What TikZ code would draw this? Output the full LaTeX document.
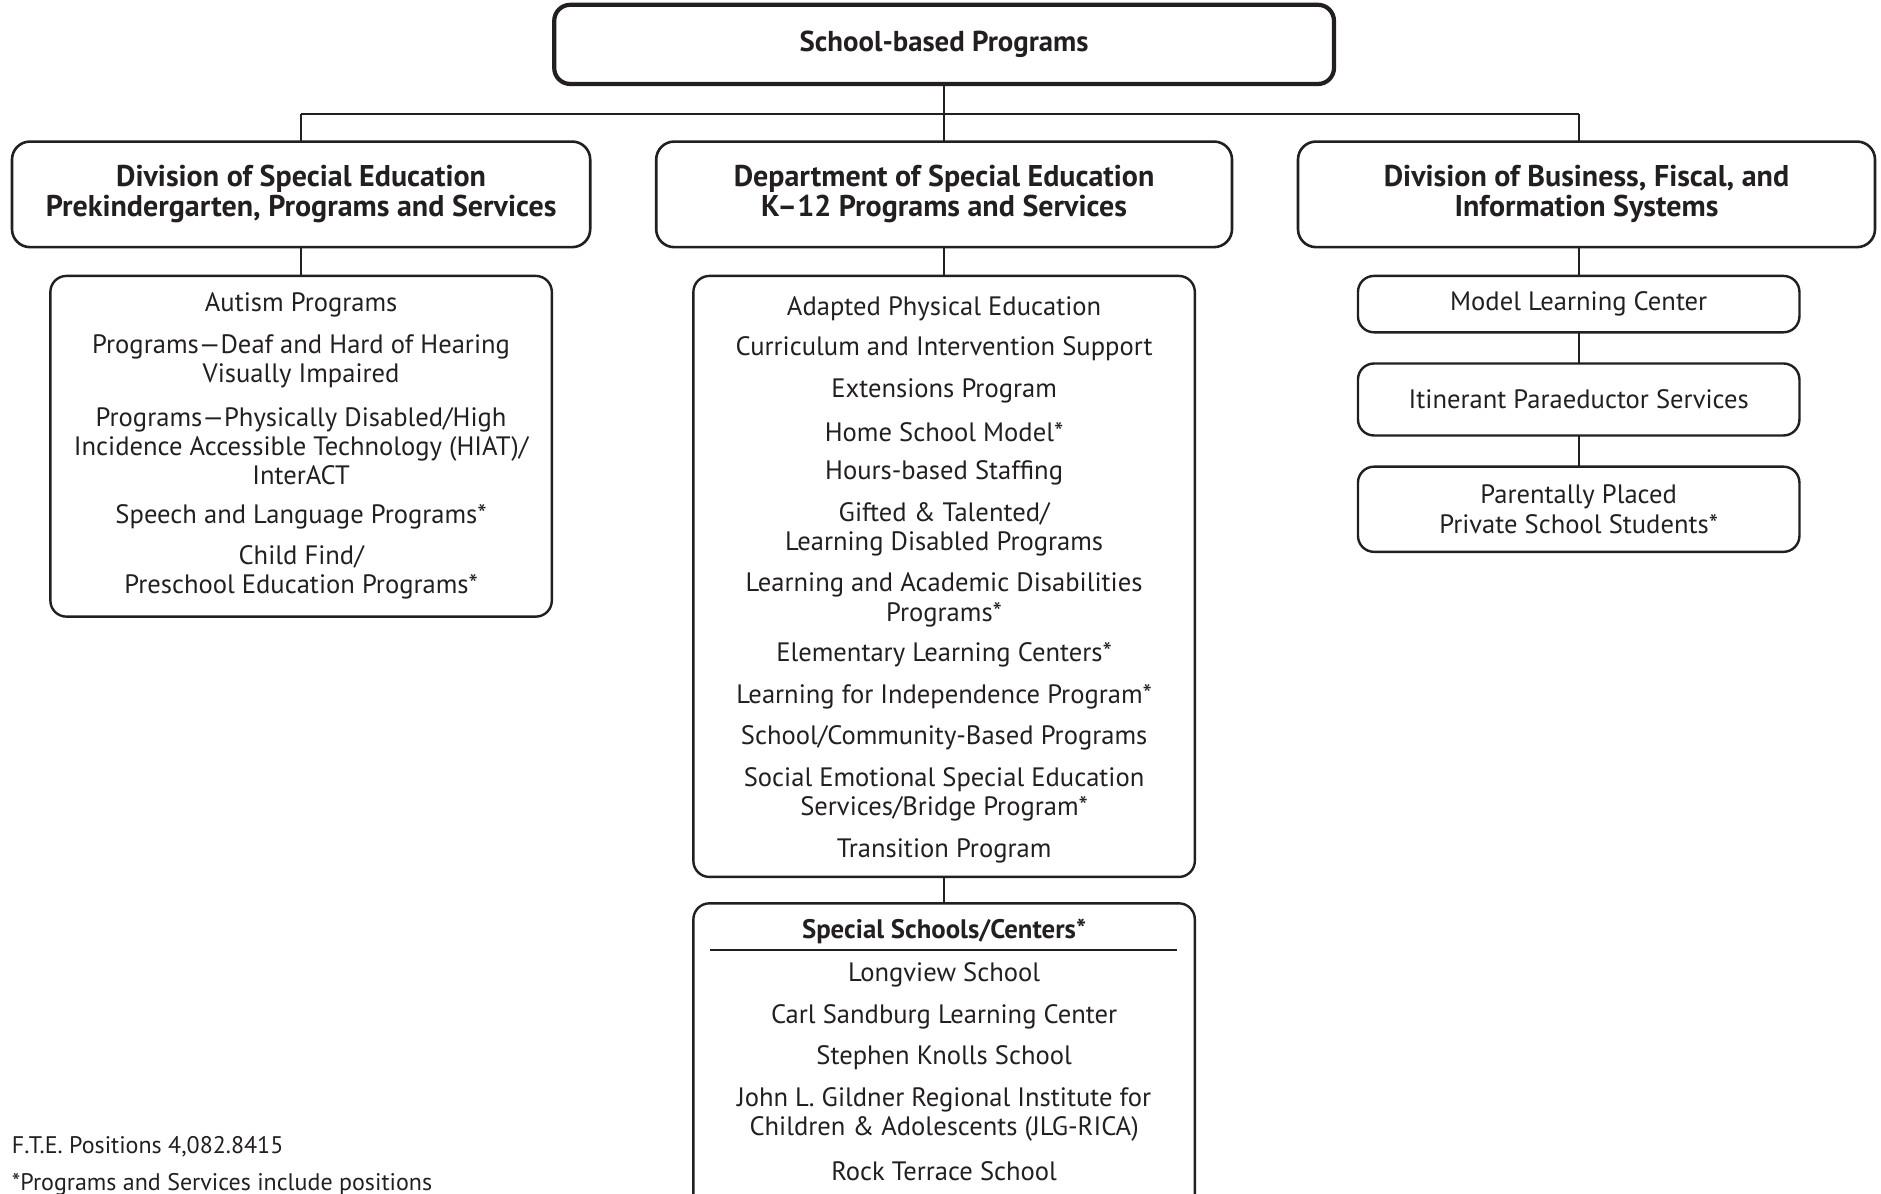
\documentclass[tikz,border=0pt]{standalone}
\usepackage{fontspec}
\setmainfont{PT Sans}
\definecolor{ink}{HTML}{231F20}
\begin{document}
\begin{tikzpicture}[x=0.6pt,y=-0.6pt,
  every node/.style={text=ink, inner sep=0pt, outer sep=0pt},
  topbox/.style={draw=ink, line width=2.1pt, rounded corners=8pt, minimum width=390pt, minimum height=39.6pt, font=\fontsize{14.4}{15}\selectfont\bfseries, align=center},
  divbox/.style={draw=ink, line width=1.3pt, rounded corners=9pt, minimum height=52.8pt, font=\fontsize{15}{15}\selectfont\bfseries, align=center},
  listbox/.style={draw=ink, line width=1.2pt, rounded corners=8pt, minimum width=250.8pt},
  smallbox/.style={draw=ink, line width=1.2pt, rounded corners=8pt, minimum width=220.8pt, font=\fontsize{13.3}{14.7}\selectfont, align=center},
  item/.style={font=\fontsize{13.3}{14.7}\selectfont, align=center},
  note/.style={font=\fontsize{12}{13}\selectfont, anchor=west},
  conn/.style={draw=ink, line width=0.9pt}
]
\useasboundingbox (0,0) rectangle (1568,995);
\clip (0,0) rectangle (1568,995);

% top
\node[topbox] (top) at (787,37) {School-based Programs};

% divisions
\node[divbox, minimum width=289.2pt] (divL) at (251,162) {Division of Special Education\\Prekindergarten, Programs and Services};
\node[divbox, minimum width=288pt] (divM) at (787,162) {Department of Special Education\\K–12 Programs and Services};
\node[divbox, minimum width=288.6pt] (divR) at (1322.5,162) {Division of Business, Fiscal, and\\Information Systems};

\coordinate (jL) at (251,95);
\coordinate (jM) at (787,95);
\coordinate (jR) at (1316,95);
\draw[conn] (top.south) -- (jM);
\draw[conn] (jL) -- (jR);
\draw[conn] (jL) -- (divL.north);
\draw[conn] (jM) -- (divM.north);
\draw[conn] (jR) -- (jR |- divR.north);

% left list
\node[listbox, minimum height=170.4pt] (listL) at (251,372) {};
\draw[conn] (divL.south) -- (listL.north);
\node[item] (l1) at (251,254) {Autism Programs};
\node[item] (l2) at (251,301) {Programs—Deaf and Hard of Hearing\\Visually Impaired};
\node[item] (l3) at (251,372) {Programs—Physically Disabled/High\\Incidence Accessible Technology (HIAT)/\\InterACT};
\node[item] (l4) at (251,431) {Speech and Language Programs*};
\node[item] (l5) at (251,477) {Child Find/\\Preschool Education Programs*};

% middle list
\node[listbox, minimum height=300.6pt] (listM) at (787,480.5) {};
\draw[conn] (divM.south) -- (listM.north);
\node[item] (m1) at (787,257) {Adapted Physical Education};
\node[item] (m2) at (787,291) {Curriculum and Intervention Support};
\node[item] (m3) at (787,326) {Extensions Program};
\node[item] (m4) at (787,360) {Home School Model*};
\node[item] (m5) at (787,394) {Hours-based Staffing};
\node[item] (m6) at (787,441) {Gifted \& Talented/\\Learning Disabled Programs};
\node[item] (m7) at (787,500) {Learning and Academic Disabilities\\Programs*};
\node[item] (m8) at (787,546) {Elementary Learning Centers*};
\node[item] (m9) at (787,581) {Learning for Independence Program*};
\node[item] (m10) at (787,615) {School/Community-Based Programs};
\node[item] (m11) at (787,662) {Social Emotional Special Education\\Services/Bridge Program*};
\node[item] (m12) at (787,709) {Transition Program};

% special schools
\node[listbox, minimum height=154.2pt] (spec) at (787,881.5) {};
\draw[conn] (listM.south) -- (spec.north);
\node[font=\fontsize{13.4}{14}\selectfont\bfseries] (sT) at (787,776) {Special Schools/Centers*};
\coordinate (rA) at (592,792);
\coordinate (rB) at (981,792);
\draw[conn] (rA) -- (rB);
\node[item] (s1) at (787,813) {Longview School};
\node[item] (s2) at (787,848) {Carl Sandburg Learning Center};
\node[item] (s3) at (787,882) {Stephen Knolls School};
\node[item] (s4) at (787,929) {John L. Gildner Regional Institute for\\Children \& Adolescents (JLG-RICA)};
\node[item] (s5) at (787,976) {Rock Terrace School};

% right column
\node[smallbox, minimum height=28.2pt] (r1) at (1316,253.5) {Model Learning Center};
\node[smallbox, minimum height=36pt] (r2) at (1316,333) {Itinerant Paraeductor Services};
\node[smallbox, minimum height=42.6pt] (r3) at (1316,424.5) {Parentally Placed\\Private School Students*};
\draw[conn] (r1.north |- divR.south) -- (r1.north);
\draw[conn] (r1.south) -- (r2.north);
\draw[conn] (r2.south) -- (r3.north);

% notes
\node[note] (n1) at (10,956) {F.T.E. Positions 4,082.8415};
\node[note] (n2) at (10,987) {*Programs and Services include positions};
\end{tikzpicture}
\end{document}
